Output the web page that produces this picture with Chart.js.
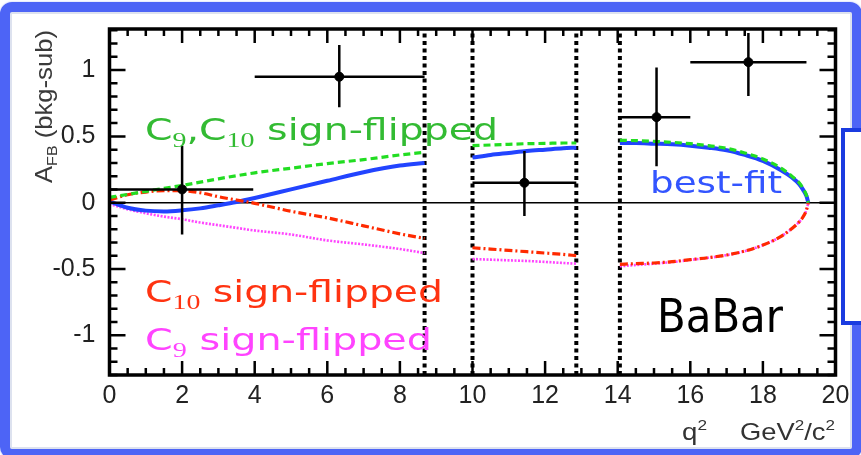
<!DOCTYPE html>
<html>
<head>
<meta charset="utf-8">
<script src="https://cdn.jsdelivr.net/npm/chart.js@4.4.0/dist/chart.umd.min.js"></script>
<style>
  html, body { margin: 0; padding: 0; background: #fff; }
  #wrap { position: relative; width: 861px; height: 455px; overflow: hidden; background: #fff; }
  #frame { position: absolute; left: 0; top: 2px; width: 842px; height: 437px;
           border: 10px solid #4d64f6; border-radius: 12px;
           box-shadow: inset 0 0 0 2px #dde2ef, 0 0 2px #aab6f8; }
  #side { position: absolute; left: 841px; top: 128px; width: 40px; height: 189px;
          border: 4px solid #1a3be0; background: #fff; }
  #chart { position: absolute; left: 0; top: 0; }
</style>
</head>
<body>
<div id="wrap">
  <div id="frame"></div>
  <canvas id="chart" width="861" height="455"></canvas>
  <div id="side"></div>
</div>
<script>
// q^2 grid (GeV^2/c^2) for the theory curves; null rows mark the charmonium veto gaps
const q2Grid = [0, 0.5, 1, 1.5, 2, 2.5, 3, 3.5, 4, 5, 6, 7, 8, 8.68,
                9.3,
                10, 10.5, 11, 11.5, 12, 12.5, 12.86,
                13.5,
                14.06, 14.5, 15, 15.5, 16, 16.5, 17, 17.5, 18, 18.5, 18.8, 19.0, 19.1, 19.2, 19.25];

// A_FB predictions
const bestFit = [0.01, -0.038, -0.06, -0.066, -0.058, -0.043, -0.02, 0.005, 0.035, 0.1, 0.165, 0.23, 0.28, 0.30,
                 null,
                 0.34, 0.36, 0.375, 0.39, 0.40, 0.41, 0.415,
                 null,
                 0.45, 0.45, 0.445, 0.44, 0.43, 0.415, 0.395, 0.36, 0.315, 0.245, 0.19, 0.14, 0.10, 0.05, 0.0];
const flipC9C10 = [0.04, 0.062, 0.085, 0.108, 0.13, 0.155, 0.18, 0.203, 0.225, 0.26, 0.295, 0.325, 0.36, 0.38,
                   null,
                   0.43, 0.435, 0.44, 0.445, 0.447, 0.45, 0.45,
                   null,
                   0.47, 0.468, 0.462, 0.455, 0.445, 0.43, 0.41, 0.375, 0.33, 0.26, 0.20, 0.15, 0.11, 0.055, 0.0];
const flipC10 = [0.02, 0.06, 0.08, 0.09, 0.09, 0.075, 0.045, 0.02, -0.005, -0.065, -0.115, -0.175, -0.235, -0.27,
                 null,
                 -0.34, -0.35, -0.36, -0.37, -0.38, -0.39, -0.40,
                 null,
                 -0.465, -0.46, -0.455, -0.445, -0.43, -0.415, -0.395, -0.365, -0.32, -0.255, -0.195, -0.145, -0.11, -0.055, 0.0];
const flipC9 = [-0.01, -0.05, -0.08, -0.105, -0.125, -0.15, -0.17, -0.19, -0.21, -0.24, -0.285, -0.315, -0.35, -0.38,
                null,
                -0.425, -0.43, -0.435, -0.44, -0.447, -0.455, -0.46,
                null,
                -0.48, -0.47, -0.46, -0.448, -0.432, -0.416, -0.396, -0.366, -0.32, -0.255, -0.195, -0.145, -0.11, -0.055, 0.0];

// measured A_FB per q^2 bin
const binCentre  = [2.0, 6.33, 11.43, 15.07, 17.6];
const binLow     = [0.0, 4.0, 10.0, 14.06, 16.0];
const binHigh    = [3.96, 8.68, 12.86, 16.0, 19.2];
const afbValue   = [0.10, 0.95, 0.15, 0.645, 1.06];
const afbErrUp   = [0.33, 0.24, 0.24, 0.375, 0.22];
const afbErrDown = [0.34, 0.23, 0.25, 0.37, 0.255];

// veto boundaries (dotted verticals)
const vetoEdges = [8.68, 10.0, 12.86, 14.06];

// axis ticks: labelled values and the minor tick grids
const xTicks = [0, 2, 4, 6, 8, 10, 12, 14, 16, 18, 20];
const yTicks = [-1, -0.5, 0, 0.5, 1];
const xMinorTicks = [];
for (let v = 0; v <= 40; v++) xMinorTicks.push(v / 2);
const yMinorTicks = [];
for (let v = -13; v <= 13; v++) yMinorTicks.push(v / 10);
const X_MIN = 0, X_MAX = 20, Y_MIN = -1.30, Y_MAX = 1.31;

const curve = ys => q2Grid.map((x, i) => ({ x, y: ys[i] }));

const datasets = [];
// data points with error bars (top layer)
datasets.push({
  data: binCentre.map((x, i) => ({ x, y: afbValue[i] })),
  pointRadius: 4.5, pointBackgroundColor: '#000', pointBorderColor: '#000',
  showLine: false, order: 0
});
binCentre.forEach((c, i) => {
  datasets.push({
    data: [{ x: binLow[i], y: afbValue[i] }, { x: binHigh[i], y: afbValue[i] }],
    showLine: true, borderColor: '#000', borderWidth: 2.5, pointRadius: 0, order: 1
  });
  datasets.push({
    data: [{ x: c, y: afbValue[i] - afbErrDown[i] }, { x: c, y: afbValue[i] + afbErrUp[i] }],
    showLine: true, borderColor: '#000', borderWidth: 2.5, pointRadius: 0, order: 1
  });
});
const lineBase = { showLine: true, pointRadius: 0, spanGaps: false, cubicInterpolationMode: 'monotone', fill: false };
datasets.push({ ...lineBase, data: curve(flipC9C10), borderColor: '#22dd22', borderWidth: 3.2, borderDash: [7, 4], order: 2 });
datasets.push({ ...lineBase, data: curve(flipC10), borderColor: '#ff2a00', borderWidth: 3.2, borderDash: [8, 3, 2, 3], order: 3 });
datasets.push({ ...lineBase, data: curve(bestFit), borderColor: '#2244ff', borderWidth: 4, order: 4 });
datasets.push({ ...lineBase, data: curve(flipC9), borderColor: '#ff44ff', borderWidth: 2.6, borderDash: [2, 1.5], order: 5 });
// zero line
datasets.push({ data: [{ x: X_MIN, y: 0 }, { x: X_MAX, y: 0 }], showLine: true, borderColor: '#000', borderWidth: 1.5, pointRadius: 0, order: 6 });
// veto boundaries
vetoEdges.forEach(e => {
  datasets.push({ data: [{ x: e, y: Y_MIN }, { x: e, y: Y_MAX }], showLine: true, borderColor: '#000',
                  borderWidth: 4, borderDash: [4, 3.5], pointRadius: 0, order: 7 });
});

// draw a run of text pieces (main text + sub/superscripts), stretched to a given width
function drawRuns(ctx, x, y, runs, color, targetWidth) {
  let w = 0;
  runs.forEach(r => { ctx.font = r.font; r.w = ctx.measureText(r.t).width; w += r.w; });
  const sx = targetWidth ? targetWidth / w : 1;
  ctx.save();
  ctx.translate(x, y);
  ctx.scale(sx, 1);
  ctx.fillStyle = color;
  ctx.textBaseline = 'alphabetic';
  ctx.textAlign = 'left';
  let cx = 0;
  runs.forEach(r => { ctx.font = r.font; ctx.fillText(r.t, cx, r.dy || 0); cx += r.w; });
  ctx.restore();
}

const LBL = '31px "DejaVu Sans"';
const SUB = '22px "Liberation Serif"';

// frame, inward tick marks on all four sides, and the text annotations
const frameAndLabels = {
  id: 'frameAndLabels',
  afterDraw(chart) {
    const ctx = chart.ctx;
    const a = chart.chartArea;
    const xs = chart.scales.x;
    const ys = chart.scales.y;

    ctx.save();
    ctx.globalAlpha = 1;
    ctx.globalCompositeOperation = 'source-over';
    ctx.setLineDash([]);
    ctx.strokeStyle = '#000';
    ctx.lineWidth = 2.5;
    ctx.beginPath();
    xMinorTicks.forEach((v, k) => {
      const px = xs.getPixelForValue(v);
      const len = (k % 4 === 0) ? 14 : 7;
      ctx.moveTo(px, a.bottom);
      ctx.lineTo(px, a.bottom - len);
      ctx.moveTo(px, a.top);
      ctx.lineTo(px, a.top + len);
    });
    yMinorTicks.forEach(v => {
      const py = ys.getPixelForValue(v);
      const major = Math.abs(Math.round(v * 10)) % 5 === 0;
      const len = major ? 16 : 8;
      ctx.moveTo(a.left, py);
      ctx.lineTo(a.left + len, py);
      ctx.moveTo(a.right, py);
      ctx.lineTo(a.right - len, py);
    });
    ctx.stroke();

    ctx.lineWidth = 3.5;
    ctx.strokeRect(a.left, a.top, a.right - a.left, a.bottom - a.top);
    ctx.restore();

    // curve labels
    drawRuns(ctx, 145, 140, [
      { t: 'C', font: LBL }, { t: '9', font: SUB, dy: 7 }, { t: ',C', font: LBL },
      { t: '10', font: SUB, dy: 7 }, { t: ' sign-flipped', font: LBL }
    ], '#33bb33', 353);
    drawRuns(ctx, 650, 193, [{ t: 'best-fit', font: LBL }], '#3355ff', 132);
    drawRuns(ctx, 145, 302, [
      { t: 'C', font: LBL }, { t: '10', font: SUB, dy: 7 }, { t: ' sign-flipped', font: LBL }
    ], '#ff3311', 298);
    drawRuns(ctx, 145, 350, [
      { t: 'C', font: LBL }, { t: '9', font: SUB, dy: 7 }, { t: ' sign-flipped', font: LBL }
    ], '#ff44ff', 287);
    drawRuns(ctx, 657, 332, [{ t: 'BaBar', font: '47px "DejaVu Sans"' }], '#000', 126);

    // axis titles
    const TF = '24px "Liberation Sans"';
    const TS = '15px "Liberation Sans"';
    drawRuns(ctx, 682, 440, [{ t: 'q', font: TF }, { t: '2', font: TS, dy: -10 }], '#333', 25);
    drawRuns(ctx, 740, 440, [
      { t: 'GeV', font: TF }, { t: '2', font: TS, dy: -10 }, { t: '/c', font: TF }, { t: '2', font: TS, dy: -10 }
    ], '#333', 95);
    ctx.save();
    ctx.translate(52, 183);
    ctx.rotate(-Math.PI / 2);
    drawRuns(ctx, 0, 0, [
      { t: 'A', font: TF }, { t: 'FB', font: TS, dy: 5 }, { t: ' (bkg-sub)', font: TF }
    ], '#3a3a3a', 153);
    ctx.restore();
  }
};

new Chart(document.getElementById('chart'), {
  type: 'scatter',
  data: { datasets },
  options: {
    responsive: false,
    animation: false,
    events: [],
    layout: { padding: { left: 0.5, top: 28, right: 25.5, bottom: 0 } },
    plugins: { legend: { display: false }, tooltip: { enabled: false } },
    scales: {
      x: {
        type: 'linear', min: X_MIN, max: X_MAX,
        afterBuildTicks: s => { s.ticks = xTicks.map(v => ({ value: v })); },
        afterFit: s => { s.height = 80; },
        ticks: { color: '#222', font: { family: 'Liberation Sans', size: 25 }, padding: 6,
                 maxRotation: 0, autoSkip: false, callback: v => String(v) },
        grid: { display: false, drawTicks: false },
        border: { display: false }
      },
      y: {
        type: 'linear', min: Y_MIN, max: Y_MAX,
        afterBuildTicks: s => { s.ticks = yTicks.map(v => ({ value: v })); },
        afterFit: s => { s.width = 109; },
        ticks: { color: '#222', font: { family: 'Liberation Sans', size: 25 }, padding: 14,
                 autoSkip: false, callback: v => String(v) },
        grid: { display: false, drawTicks: false },
        border: { display: false }
      }
    }
  },
  plugins: [frameAndLabels]
});
</script>
</body>
</html>
